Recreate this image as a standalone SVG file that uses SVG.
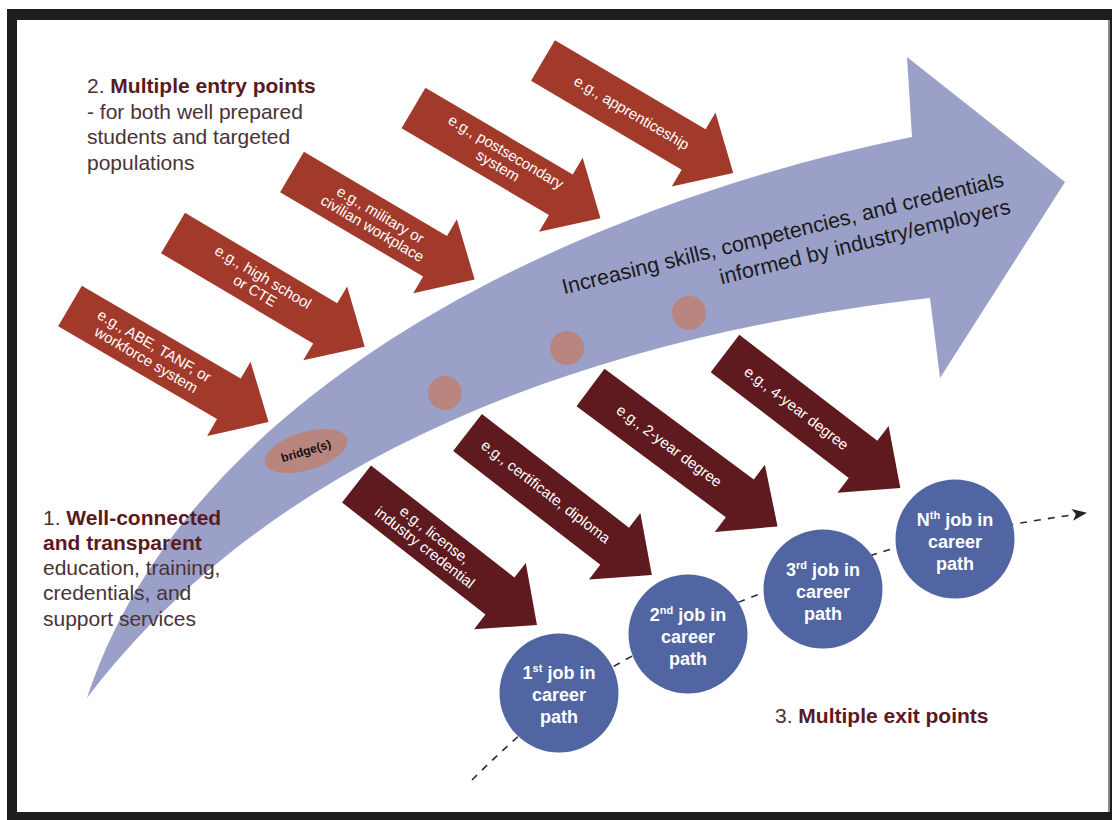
<svg xmlns="http://www.w3.org/2000/svg" width="1112" height="820" viewBox="0 0 1112 820">
<defs>
<style>
.entry{fill:#a23a2b}
.exit{fill:#5e1a1e}
.atxt{font-family:"Liberation Sans",Arial,sans-serif;font-size:15px;fill:#ffffff;text-anchor:middle}
.job{fill:#5065a2}
.jtxt{font-family:"Liberation Sans",Arial,sans-serif;font-size:18px;font-weight:bold;fill:#ffffff;text-anchor:middle}
.sup{font-size:11px}
.dot{fill:#b8857f}
.lbl{font-family:"Liberation Sans",Arial,sans-serif;font-size:21px;fill:#4a3236}
.b{font-weight:bold;fill:#5a1a22}
.main{font-family:"Liberation Sans",Arial,sans-serif;font-size:21.5px;fill:#1a1a1a;text-anchor:end}
</style>
<marker id="ah" markerWidth="16" markerHeight="12" refX="13" refY="6" orient="auto" markerUnits="userSpaceOnUse">
<path d="M0,0 L15,6 L0,12 L4,6 Z" fill="#222"/>
</marker>
</defs>

<rect x="0" y="0" width="1112" height="820" fill="#ffffff"/>
<rect x="7" y="9" width="1105" height="811" fill="#1e1e1e"/>
<rect x="17" y="20" width="1091" height="792" fill="#ffffff"/>
<rect x="1108" y="20" width="2" height="792" fill="#8a8a8a"/>

<g id="big-arrow">
<path d="M87,698 C195,370 612,197 912,137 L907,57 L1065,182 L940,378 L930,298 C560,340 260,470 87,698 Z" fill="#9aa0c7"/>
<circle class="dot" cx="445" cy="393" r="17"/>
<circle class="dot" cx="567" cy="348" r="17"/>
<circle class="dot" cx="689" cy="313" r="17"/>
<g transform="translate(87,0)"></g>
<g transform="translate(1005,186) rotate(-13.8)">
<text class="main" x="0" y="0">Increasing skills, competencies, and credentials</text>
<text class="main" x="0" y="28">informed by industry/employers</text>
</g>
</g>

<g id="bridge">
<ellipse cx="306" cy="451" rx="43" ry="19" transform="rotate(-17 306 451)" fill="#b8857f"/>
<text x="306" y="455" transform="rotate(-17 306 451)" font-family="Liberation Sans, Arial, sans-serif" font-size="12" font-weight="bold" fill="#111" text-anchor="middle">bridge(s)</text>
</g>

<g id="entry-abe" transform="translate(70,306) rotate(30.3)">
<path class="entry" d="M0,-23.5 H184 V-43 L230,0 L184,43 V23.5 H0 Z"/>
<text class="atxt" x="93" y="-3">e.g., ABE, TANF, or</text>
<text class="atxt" x="93" y="13">workforce system</text>
</g>
<g id="entry-highschool" transform="translate(173,233) rotate(30.7)">
<path class="entry" d="M0,-23.5 H177 V-43 L223,0 L177,43 V23.5 H0 Z"/>
<text class="atxt" x="100" y="-3">e.g., high school</text>
<text class="atxt" x="100" y="13">or CTE</text>
</g>
<g id="entry-military" transform="translate(292,172) rotate(30.5)">
<path class="entry" d="M0,-23.5 H166 V-43 L212,0 L166,43 V23.5 H0 Z"/>
<text class="atxt" x="98" y="-3">e.g., military or</text>
<text class="atxt" x="98" y="13">civilian workplace</text>
</g>
<g id="entry-postsecondary" transform="translate(413.5,108) rotate(30.5)">
<path class="entry" d="M0,-23.5 H171 V-43 L217,0 L171,43 V23.5 H0 Z"/>
<text class="atxt" x="102" y="-4">e.g., postsecondary</text>
<text class="atxt" x="102" y="12">system</text>
</g>
<g id="entry-apprenticeship" transform="translate(543,60.5) rotate(30.6)">
<path class="entry" d="M0,-23.5 H175 V-43 L221,0 L175,43 V23.5 H0 Z"/>
<text class="atxt" x="103" y="5">e.g., apprenticeship</text>
</g>

<g id="connectors">
<path d="M472,780 C520,732 570,690 625,660 S720,608 760,594 S850,562 885,551 S990,527 1085,513" fill="none" stroke="#2a2a2a" stroke-width="1.6" stroke-dasharray="7 7" marker-end="url(#ah)"/>
</g>

<g id="exit-license" transform="translate(356.5,484) rotate(38)">
<path class="exit" d="M0,-23.5 H182 V-42 L229,0 L182,42 V23.5 H0 Z"/>
<text class="atxt" x="93" y="-3">e.g., license,</text>
<text class="atxt" x="93" y="13">industry credential</text>
</g>
<g id="exit-certificate" transform="translate(467.5,432.5) rotate(37.7)">
<path class="exit" d="M0,-23.5 H186 V-42 L233,0 L186,42 V23.5 H0 Z"/>
<text class="atxt" x="98" y="4">e.g., certificate, diploma</text>
</g>
<g id="exit-2year" transform="translate(590.5,387.5) rotate(36.6)">
<path class="exit" d="M0,-23.5 H186 V-42 L233,0 L186,42 V23.5 H0 Z"/>
<text class="atxt" x="98" y="5">e.g., 2-year degree</text>
</g>
<g id="exit-4year" transform="translate(725,353.5) rotate(37.5)">
<path class="exit" d="M0,-23.5 H174 V-42 L221,0 L174,42 V23.5 H0 Z"/>
<text class="atxt" x="90" y="5">e.g., 4-year degree</text>
</g>

<g id="job-1">
<circle class="job" cx="559" cy="693" r="59.5"/>
<text class="jtxt" x="559" y="679">1<tspan class="sup" dy="-7">st</tspan><tspan dy="7"> job in</tspan></text>
<text class="jtxt" x="559" y="701">career</text>
<text class="jtxt" x="559" y="723">path</text>
</g>
<g id="job-2">
<circle class="job" cx="688" cy="634" r="59.5"/>
<text class="jtxt" x="688" y="621">2<tspan class="sup" dy="-7">nd</tspan><tspan dy="7"> job in</tspan></text>
<text class="jtxt" x="688" y="643">career</text>
<text class="jtxt" x="688" y="665">path</text>
</g>
<g id="job-3">
<circle class="job" cx="823" cy="589" r="59.5"/>
<text class="jtxt" x="823" y="576">3<tspan class="sup" dy="-7">rd</tspan><tspan dy="7"> job in</tspan></text>
<text class="jtxt" x="823" y="598">career</text>
<text class="jtxt" x="823" y="620">path</text>
</g>
<g id="job-n">
<circle class="job" cx="955" cy="539" r="59.5"/>
<text class="jtxt" x="955" y="526">N<tspan class="sup" dy="-7">th</tspan><tspan dy="7"> job in</tspan></text>
<text class="jtxt" x="955" y="548">career</text>
<text class="jtxt" x="955" y="570">path</text>
</g>

<g id="label-entry">
<text class="lbl" x="87" y="93">2. <tspan class="b">Multiple entry points</tspan></text>
<text class="lbl" x="87" y="118.5">- for both well prepared</text>
<text class="lbl" x="87" y="144">students and targeted</text>
<text class="lbl" x="87" y="169.5">populations</text>
</g>

<g id="label-connected">
<text class="lbl" x="43" y="525">1. <tspan class="b">Well-connected</tspan></text>
<text class="lbl b" x="43" y="550">and transparent</text>
<text class="lbl" x="43" y="575">education, training,</text>
<text class="lbl" x="43" y="600">credentials, and</text>
<text class="lbl" x="43" y="626">support services</text>
</g>

<g id="label-exit">
<text class="lbl" x="775" y="723">3. <tspan class="b">Multiple exit points</tspan></text>
</g>
</svg>
